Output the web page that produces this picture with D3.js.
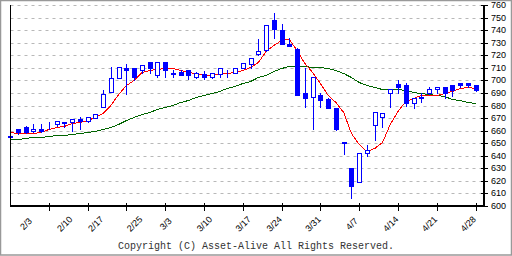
<!DOCTYPE html>
<html><head><meta charset="utf-8">
<script src="https://cdn.jsdelivr.net/npm/d3@7"></script>
<style>html,body{margin:0;padding:0;background:#fff;} svg{display:block;}</style>
</head><body>
<svg id="c" width="512" height="256"></svg>
<script>
const dates = ["2/3","2/4","2/5","2/6","2/7","2/10","2/12","2/13","2/14","2/17","2/18","2/19","2/20","2/21","2/25","2/26","2/27","2/28","3/3","3/4","3/5","3/6","3/7","3/10","3/11","3/12","3/13","3/14","3/17","3/18","3/19","3/21","3/24","3/25","3/26","3/27","3/28","3/31","4/1","4/2","4/3","4/4","4/7","4/8","4/9","4/10","4/11","4/14","4/15","4/16","4/17","4/18","4/21","4/22","4/23","4/24","4/25","4/28","4/30","5/1","5/2"];
const open  = [656,661.5,663,659.5,661.5,665,665.5,666,666.5,669.5,668,670,679,690.5,702,709.5,710,708.5,715,704,715,706,707,708,702.3,705.2,702.5,705.2,705.5,705.8,710,713,720.6,724,748.3,740,729.2,725,690,686.7,688.5,684.8,678,651,630.3,619,642,664.6,671.2,689.7,697.3,696.4,682,686,689.8,693,694.6,696.4,698,697.8,696.4];
const high  = [656.5,661.5,663.5,665.5,665.5,666.5,667.5,666.6,669,671,670.7,673.6,692.5,710.5,710.7,713,710,712.5,715,714.6,715,708.4,708.4,708.3,706.8,707.6,705.6,709.9,708.5,710,714.2,718,733,744,754,745,733.7,725.5,709.8,702.8,690.3,686,678.2,651,630.5,642.5,648.6,674.7,674,693.1,700.5,698.3,686,690,694.6,694.8,694.8,696.6,698,698,696.5];
const low   = [654.5,657,658.5,659,659,661,663.5,663,659.5,661.5,667,669.8,678.7,690.5,701.8,689,700.5,706,706,702.3,702.5,702.3,704,701,702,701,702,702.3,702.3,705.5,709.8,709.8,720.5,723.5,733.7,729,727,688,679.2,661.4,679.2,678.4,660.8,641.7,606.2,618.9,640,652.6,663.2,679.2,690.3,680,678.4,683,689.5,690.3,686,687.2,695,695,691.8];
const close = [655,659,659,661.5,659.5,665.5,667.5,666.5,669,668,670.5,673.5,689,702,710.5,708,702.5,712.5,709.5,714.5,708,704.8,704.2,704.2,705.8,702.6,705.5,709.8,706,709.8,714,717.7,723.3,744,741,729,727,688,686.3,702.6,684,678.4,661,650,616.2,642.4,644.5,674.6,673.9,693,694.6,682,685.7,687,693,694.6,689.8,692.5,696.5,696.2,692];
const ma5   = [658.8,658,658.2,658.5,659.2,661.1,663,664,665.9,667.2,668.8,671.2,673.8,680.5,689.5,696.5,700.5,706.8,708.4,709.3,709.5,709.7,708.2,707,705.5,704.4,704.5,705.5,705.8,706.6,708.6,711,715,723,728.4,732.3,733,724.5,714.2,706.8,698.2,688.5,682.8,674.5,658,649.6,643.5,645.8,650.8,665.2,675.8,683.4,685.6,688.4,688.7,688.7,690,691.6,693.6,694.8,693.6];
const ma25  = [653.2,653.4,654,654.8,655,655.8,656.4,656.6,657.2,658,658.8,659.6,661.1,663.2,665.4,668.5,671.2,673.3,675.2,677.1,678.7,680.5,682.4,684.5,686.7,688.3,689.8,691.4,693.8,695.7,697.6,699.7,702.3,704.4,707.1,709.8,711.8,711.8,711.6,711,710.8,709.8,708.2,705.5,702.3,699,696.4,694.6,693.5,693,693,692,690.9,689.8,689.3,688.5,687.2,685.3,684,682.7,681.6];
const labelDates = ["2/3","2/10","2/17","2/25","3/3","3/10","3/17","3/24","3/31","4/7","4/14","4/21","4/28"];
const tickDates = ["2/10","2/18","2/26","3/5","3/12","3/19","3/27","4/3","4/10","4/17","4/24","5/2"];
const yTicks = [600,610,620,630,640,650,660,670,680,690,700,710,720,730,740,750,760];
const copyright = "Copyright (C) Asset-Alive All Rights Reserved.";

const svg = d3.select("#c");
const BLUE = "#0000ff";
const x = d3.scalePoint().domain(dates).range([10, 475.6]);
const y = d3.scaleLinear().domain([600, 760]).rangeRound([206, 5]);
const px = d => Math.round(x(d));
const xLeft = px(dates[0]) + 0.5, xRight = 483.5;

// outer frame
svg.append("rect").attr("x", 0.5).attr("y", 0.5).attr("width", 511).attr("height", 254.5)
  .attr("fill", "#fff").attr("stroke", "#999").attr("stroke-width", 1.5);

// grid
svg.append("g").selectAll("line").data(yTicks.filter(v => v > 600)).join("line")
  .attr("x1", xLeft).attr("x2", xRight)
  .attr("y1", d => y(d) + 0.5).attr("y2", d => y(d) + 0.5)
  .attr("stroke", "#b8b8b8").attr("stroke-dasharray", "3,4");

// MA lines
const line = d3.line().x((d, i) => x(dates[i])).y(d => y(d) + 0.5);
svg.append("path").datum(ma25).attr("d", line).attr("fill", "none").attr("stroke", "#006400")
  .attr("stroke-width", 1).attr("shape-rendering", "crispEdges");
svg.append("path").datum(ma5).attr("d", line).attr("fill", "none").attr("stroke", "#ff0000")
  .attr("stroke-width", 1).attr("shape-rendering", "crispEdges");

// candles
const idx = d3.range(dates.length);
const cg = svg.append("g").selectAll("g").data(idx).join("g");
cg.append("line")
  .attr("x1", i => px(dates[i]) + 0.5).attr("x2", i => px(dates[i]) + 0.5)
  .attr("y1", i => y(high[i])).attr("y2", i => y(low[i]) + 1)
  .attr("stroke", BLUE);
cg.append("rect")
  .each(function(i) {
    const c = px(dates[i]);
    const t = y(Math.max(open[i], close[i])), b = y(Math.min(open[i], close[i]));
    const s = d3.select(this);
    if (close[i] >= open[i]) {
      s.attr("x", c - 1.5).attr("y", t + 0.5).attr("width", 4).attr("height", Math.max(0, b - t))
       .attr("fill", "#fff").attr("stroke", BLUE).attr("stroke-width", 1);
    } else {
      s.attr("x", c - 2).attr("y", t).attr("width", 5).attr("height", b - t + 1).attr("fill", BLUE);
    }
  });

// axes lines
svg.append("line").attr("x1", xLeft).attr("x2", xLeft).attr("y1", 5).attr("y2", 207).attr("stroke", "#000");
svg.append("line").attr("x1", 484).attr("x2", 484).attr("y1", 5).attr("y2", 207).attr("stroke", "#000").attr("stroke-width", 2);
svg.append("line").attr("x1", xLeft - 0.5).attr("x2", 485).attr("y1", 206).attr("y2", 206).attr("stroke", "#000").attr("stroke-width", 2);

// y axis
const ya = svg.append("g").attr("transform", "translate(483,0)")
  .call(d3.axisRight(y).tickValues(yTicks).tickSize(5).tickPadding(4).tickSizeOuter(0));
ya.select(".domain").remove();
ya.selectAll(".tick line").attr("x1", -2).attr("x2", 5).attr("stroke", "#000");
ya.selectAll(".tick text").attr("x", 8).attr("font-family", "Liberation Sans, Arial, sans-serif").attr("font-size", 9).attr("fill", "#000");

// x axis ticks
const xa = svg.append("g").attr("transform", "translate(0,206)")
  .call(d3.axisBottom(x).tickValues(tickDates).tickSize(5).tickSizeOuter(0).tickFormat(""));
xa.select(".domain").remove();
xa.selectAll(".tick").attr("transform", d => `translate(${px(d) + 0.5},0)`);
xa.selectAll(".tick line").attr("y1", -3).attr("y2", 5).attr("stroke", "#000");

// x labels
svg.append("g").selectAll("text").data(labelDates).join("text")
  .attr("transform", d => `translate(${x(d) + 16},224) rotate(-45)`)
  .attr("text-anchor", "middle").attr("dominant-baseline", "central")
  .attr("font-family", "Liberation Sans, Arial, sans-serif").attr("font-size", 9).attr("fill", "#000")
  .text(d => d);

// copyright
svg.append("text").attr("x", 256).attr("y", 249).attr("text-anchor", "middle")
  .attr("font-family", "Liberation Mono, DejaVu Sans Mono, monospace").attr("font-size", 10).attr("fill", "#333")
  .text(copyright);
</script>
</body></html>
